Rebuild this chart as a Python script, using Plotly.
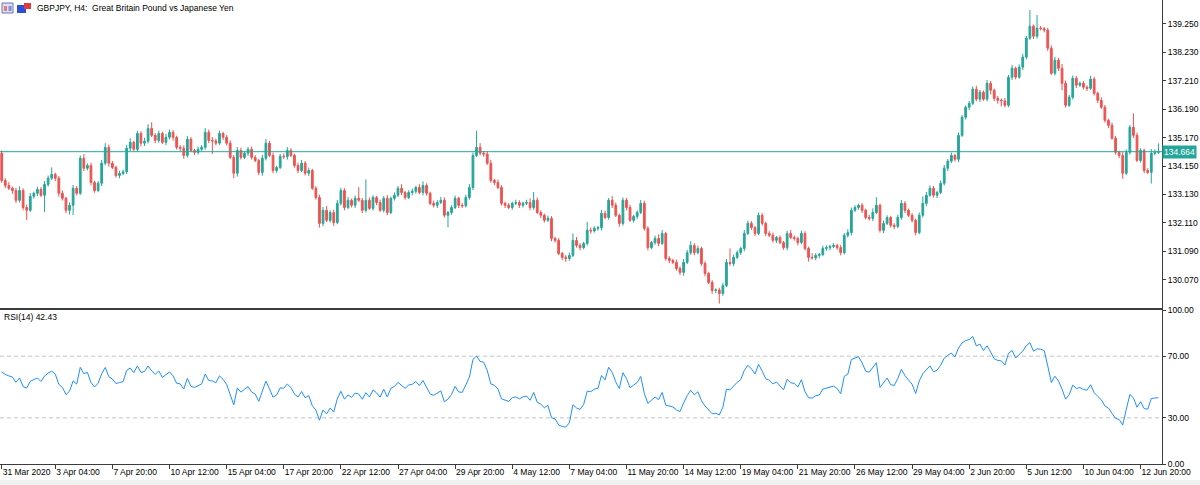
import plotly.graph_objects as go
import pandas as pd

# ---------------- data ----------------
symbol_title = "GBPJPY, H4:  Great Britain Pound vs Japanese Yen"
first_time = "2020-03-31 16:00"
first_open = 134.61
last_price = 134.664

closes = [
    133.63, 133.45, 133.35, 133.27, 132.92, 133.27, 132.66, 132.56, 133.06, 133.17,
    133.31, 133.10, 133.49, 133.71, 133.85, 133.71, 133.17, 132.99, 132.56, 132.74,
    133.35, 133.17, 134.43, 134.07, 134.17, 133.56, 133.27, 133.53, 134.25, 134.82,
    134.25, 134.10, 133.81, 133.88, 133.94, 134.79, 135.00, 134.75, 135.32, 134.97,
    135.04, 135.50,
    135.25, 135.07, 135.32, 135.00, 135.18, 135.36, 135.18, 134.82, 134.79, 134.53,
    135.11, 134.71, 134.64, 134.75, 134.82, 135.36, 135.07, 135.05, 134.97, 135.32,
    135.18, 134.97, 134.46, 133.89, 134.71, 134.46, 134.61, 134.75, 134.46, 134.35,
    133.92, 134.43, 134.97, 134.53, 133.99, 134.10, 134.50, 134.48, 134.71, 134.53,
    134.17,
    133.99, 134.25, 133.89, 133.99, 133.35, 133.02, 132.09, 132.56, 132.20, 132.48,
    132.12, 132.81, 133.27, 132.66, 132.92, 132.74, 132.99, 132.92, 132.56, 132.92,
    132.63, 133.02, 132.84, 132.56, 132.99, 132.48, 132.99, 133.10, 133.35, 133.20,
    133.02, 133.20, 133.24, 133.38, 133.20, 133.45, 133.17, 132.81, 132.74, 132.84,
    132.92, 132.38, 132.48, 132.66, 132.99, 132.74, 132.72, 133.02, 133.38, 134.53,
    134.82, 134.61, 134.58, 134.25, 133.63, 133.56, 133.38, 132.81, 132.74, 132.66,
    132.81, 132.84, 132.74, 132.81, 132.84, 132.66, 132.92, 132.48, 132.38, 132.20,
    132.27, 131.55, 131.48, 131.01, 130.87, 130.83, 130.94, 131.48, 131.30, 131.22,
    131.37,
    131.84, 131.82, 131.91, 131.94, 132.45, 132.30, 132.92, 132.74, 132.38, 132.09,
    132.92, 132.66, 132.20, 132.34, 132.48, 132.81, 131.91, 131.22, 131.40, 131.55,
    131.37, 131.73, 130.83, 130.76, 130.69, 130.47, 130.33, 130.69, 131.04, 131.30,
    131.04, 131.19, 130.65, 130.29, 129.97, 129.68, 129.70, 129.57, 129.86, 130.69,
    130.65,
    130.87, 131.04, 131.19, 131.73, 132.09, 131.94, 131.73, 132.38, 132.09, 131.73,
    131.66, 131.48, 131.58, 131.40, 131.22, 131.73, 131.58, 131.55, 131.40, 131.73,
    131.19, 130.87, 130.85, 130.94, 130.97, 131.19, 131.22, 131.26, 131.30, 131.22,
    131.04, 131.66, 131.76, 132.56, 132.66, 132.74, 132.56, 132.30, 132.27, 132.48,
    132.74,
    131.84, 132.09, 132.30, 132.02, 131.98, 132.30, 132.81, 132.56, 132.38, 132.20,
    131.76, 132.38, 132.81, 133.10, 133.35, 133.10, 133.20, 133.53, 134.07, 134.32,
    134.53, 134.39, 135.25, 135.90, 136.26, 136.40, 136.91, 136.55, 136.80, 136.55,
    137.12, 136.87, 136.58, 136.51, 136.49, 136.33, 137.34, 137.66, 137.34, 137.70,
    138.06,
    138.74, 139.17, 138.81, 139.10, 139.08, 139.03, 138.38, 137.48, 137.95, 137.66,
    137.12, 136.33, 136.62, 137.30, 137.05, 137.12, 136.98, 136.94, 137.27, 136.76,
    136.51, 136.26, 135.79, 135.61, 135.15, 134.64, 134.53, 133.89, 134.64, 135.54,
    135.25, 134.35, 134.71, 133.99, 133.92, 134.61, 134.64, 134.664,
]

upper_wick = [
    0.10, 0.08, 0.12, 0.06, 0.10, 0.15, 0.08, 0.10, 0.12, 0.06, 0.10, 0.08, 0.12, 0.10, 0.25, 0.06, 0.08, 0.10, 0.06, 0.10, 0.12, 0.08, 0.10, 0.15, 0.08,
    0.10, 0.06, 0.08, 0.12, 0.15, 0.10, 0.08, 0.06, 0.10, 0.08, 0.12, 0.15, 0.06, 0.10, 0.08, 0.12, 0.15, 0.22, 0.08, 0.10, 0.06, 0.12, 0.10, 0.08, 0.06,
    0.08, 0.10, 0.12, 0.08, 0.06, 0.10, 0.08, 0.15, 0.10, 0.12, 0.08, 0.10, 0.06, 0.08, 0.10, 0.08, 0.12, 0.10, 0.06, 0.08, 0.10, 0.08, 0.06, 0.12, 0.15,
    0.08, 0.10, 0.06, 0.08, 0.10, 0.12, 0.08, 0.06, 0.10, 0.12, 0.08, 0.10, 0.06, 0.08, 0.10, 0.12, 0.15, 0.08, 0.10, 0.12, 0.10, 0.08, 0.12, 0.06, 0.10,
    0.40, 0.08, 0.75, 0.10, 0.08, 0.06, 0.10, 0.08, 0.12, 0.06, 0.10, 0.08, 0.15, 0.06, 0.08, 0.10, 0.06, 0.12, 0.15, 0.08, 0.06, 0.10, 0.08, 0.12, 0.10,
    0.06, 0.08, 0.10, 0.06, 0.08, 0.10, 0.12, 0.10, 0.60, 0.15, 0.08, 0.10, 0.12, 0.06, 0.10, 0.08, 0.06, 0.08, 0.06, 0.10, 0.08, 0.06, 0.10, 0.15, 0.30,
    0.10, 0.08, 0.06, 0.10, 0.08, 0.06, 0.08, 0.06, 0.08, 0.10, 0.25, 0.12, 0.08, 0.06, 0.30, 0.10, 0.08, 0.06, 0.12, 0.10, 0.08, 0.15, 0.10, 0.06, 0.10,
    0.08, 0.10, 0.06, 0.08, 0.12, 0.10, 0.08, 0.06, 0.10, 0.15, 0.12, 0.06, 0.08, 0.06, 0.10, 0.08, 0.12, 0.10, 0.15, 0.08, 0.10, 0.06, 0.08, 0.06, 0.08,
    0.06, 0.08, 0.10, 0.12, 0.50, 0.10, 0.08, 0.06, 0.12, 0.10, 0.08, 0.06, 0.10, 0.08, 0.06, 0.08, 0.10, 0.06, 0.08, 0.06, 0.10, 0.12, 0.08, 0.06, 0.10,
    0.08, 0.06, 0.15, 0.08, 0.06, 0.10, 0.08, 0.06, 0.08, 0.06, 0.10, 0.08, 0.12, 0.10, 0.08, 0.06, 0.08, 0.06, 0.10, 0.15, 0.29, 0.06, 0.10, 0.08, 0.06,
    0.08, 0.10, 0.12, 0.08, 0.06, 0.08, 0.06, 0.10, 0.25, 0.12, 0.10, 0.08, 0.06, 0.10, 0.12, 0.08, 0.10, 0.06, 0.10, 0.08, 0.06, 0.08, 0.10, 0.12, 0.08,
    0.06, 0.12, 0.08, 0.06, 0.08, 0.06, 0.10, 0.08, 0.12, 0.06, 0.10, 0.12, 0.08, 0.58, 0.06, 0.47, 0.08, 0.06, 0.08, 0.10, 0.12, 0.08, 0.15, 0.10, 0.08,
    0.10, 0.08, 0.06, 0.08, 0.06, 0.12, 0.08, 0.06, 0.10, 0.08, 0.06, 0.10, 0.08, 0.06, 0.12, 0.10, 0.08, 0.50, 0.10, 0.08, 0.06, 0.08, 0.15, 0.10, 0.30,
]

lower_wick = [
    0.08, 0.10, 0.06, 0.12, 0.10, 0.08, 0.10, 0.35, 0.06, 0.08, 0.10, 0.06, 0.60, 0.08, 0.06, 0.10, 0.12, 0.08, 0.10, 0.15, 0.35, 0.08, 0.06, 0.10, 0.08,
    0.10, 0.08, 0.06, 0.10, 0.08, 0.12, 0.06, 0.08, 0.10, 0.06, 0.08, 0.10, 0.06, 0.08, 0.12, 0.10, 0.08, 0.06, 0.10, 0.08, 0.06, 0.10, 0.08, 0.12, 0.08,
    0.10, 0.12, 0.08, 0.06, 0.10, 0.08, 0.06, 0.08, 0.10, 0.47, 0.08, 0.06, 0.10, 0.08, 0.06, 0.18, 0.12, 0.08, 0.06, 0.10, 0.08, 0.06, 0.10, 0.12, 0.08,
    0.06, 0.10, 0.08, 0.06, 0.08, 0.10, 0.06, 0.08, 0.10, 0.06, 0.08, 0.10, 0.06, 0.08, 0.15, 0.10, 0.06, 0.08, 0.12, 0.06, 0.08, 0.10, 0.06, 0.08, 0.10,
    0.06, 0.10, 0.08, 0.06, 0.08, 0.10, 0.06, 0.08, 0.10, 0.06, 0.08, 0.06, 0.10, 0.08, 0.06, 0.10, 0.08, 0.06, 0.10, 0.08, 0.06, 0.08, 0.10, 0.06, 0.08,
    0.43, 0.08, 0.06, 0.10, 0.08, 0.06, 0.08, 0.10, 0.06, 0.08, 0.10, 0.06, 0.08, 0.10, 0.06, 0.08, 0.10, 0.06, 0.08, 0.06, 0.10, 0.08, 0.06, 0.10, 0.08,
    0.06, 0.10, 0.08, 0.06, 0.10, 0.08, 0.06, 0.10, 0.12, 0.08, 0.06, 0.08, 0.10, 0.06, 0.08, 0.10, 0.06, 0.08, 0.10, 0.06, 0.08, 0.10, 0.06, 0.12, 0.08,
    0.10, 0.06, 0.08, 0.10, 0.06, 0.08, 0.10, 0.06, 0.08, 0.10, 0.06, 0.08, 0.10, 0.06, 0.08, 0.10, 0.12, 0.06, 0.08, 0.10, 0.06, 0.08, 0.10, 0.06, 0.12,
    0.10, 0.36, 0.08, 0.06, 0.08, 0.10, 0.06, 0.08, 0.10, 0.06, 0.08, 0.10, 0.06, 0.08, 0.10, 0.06, 0.08, 0.10, 0.06, 0.08, 0.10, 0.06, 0.08, 0.10, 0.06,
    0.08, 0.15, 0.06, 0.08, 0.10, 0.06, 0.08, 0.10, 0.06, 0.08, 0.10, 0.06, 0.08, 0.10, 0.06, 0.08, 0.10, 0.06, 0.08, 0.10, 0.06, 0.08, 0.10, 0.06, 0.08,
    0.10, 0.06, 0.08, 0.10, 0.06, 0.08, 0.10, 0.06, 0.08, 0.10, 0.06, 0.08, 0.10, 0.06, 0.08, 0.10, 0.06, 0.08, 0.10, 0.06, 0.08, 0.10, 0.06, 0.08, 0.10,
    0.06, 0.08, 0.15, 0.10, 0.12, 0.20, 0.08, 0.06, 0.10, 0.08, 0.06, 0.10, 0.08, 0.06, 0.10, 0.08, 0.06, 0.08, 0.10, 0.06, 0.08, 0.10, 0.25, 0.08, 0.06,
    0.08, 0.10, 0.06, 0.08, 0.10, 0.06, 0.08, 0.10, 0.06, 0.08, 0.10, 0.06, 0.08, 0.10, 0.20, 0.06, 0.08, 0.10, 0.06, 0.08, 0.10, 0.06, 0.40, 0.08, 0.06,
]

price_ticks = [130.070, 131.090, 132.110, 133.130, 134.150, 135.170, 136.190, 137.210, 138.230, 139.250]
rsi_ticks = [0, 30, 70, 100]
rsi_levels = [30, 70]
rsi_period = 14
rsi_seed_gain = 0.32
rsi_seed_loss = 0.14
rsi_label_value = "42.43"

time_tick_labels = [
    "31 Mar 2020", "3 Apr 04:00", "7 Apr 20:00", "10 Apr 12:00", "15 Apr 04:00", "17 Apr 20:00",
    "22 Apr 12:00", "27 Apr 04:00", "29 Apr 20:00", "4 May 12:00", "7 May 04:00", "11 May 20:00",
    "14 May 12:00", "19 May 04:00", "21 May 20:00", "26 May 12:00", "29 May 04:00", "2 Jun 20:00",
    "5 Jun 12:00", "10 Jun 04:00", "12 Jun 20:00",
]
time_tick_times = [
    "2020-03-31 16:00", "2020-04-03 04:00", "2020-04-07 20:00", "2020-04-10 12:00", "2020-04-15 04:00",
    "2020-04-17 20:00", "2020-04-22 12:00", "2020-04-27 04:00", "2020-04-29 20:00", "2020-05-04 12:00",
    "2020-05-07 04:00", "2020-05-11 20:00", "2020-05-14 12:00", "2020-05-19 04:00", "2020-05-21 20:00",
    "2020-05-26 12:00", "2020-05-29 04:00", "2020-06-02 20:00", "2020-06-05 12:00", "2020-06-10 04:00",
    "2020-06-12 20:00",
]

# ---------------- derived ----------------
n = len(closes)
opens = [first_open] + closes[:-1]
highs = [max(o, c) + u for o, c, u in zip(opens, closes, upper_wick)]
lows = [min(o, c) - d for o, c, d in zip(opens, closes, lower_wick)]

# H4 bar times (forex: Mon-Fri)
bar_times = []
t = pd.Timestamp(first_time)
while len(bar_times) < n:
    if t.dayofweek < 5:
        bar_times.append(t)
    t += pd.Timedelta(hours=4)
tick_idx = [bar_times.index(pd.Timestamp(s)) for s in time_tick_times]

# RSI(14), Wilder smoothing
rsi = []
ag, al = rsi_seed_gain, rsi_seed_loss
prev = first_open
for c in closes:
    ch = c - prev
    g, l = max(ch, 0.0), max(-ch, 0.0)
    ag = (ag * (rsi_period - 1) + g) / rsi_period
    al = (al * (rsi_period - 1) + l) / rsi_period
    rsi.append(100.0 if al == 0 else 100.0 - 100.0 / (1.0 + ag / al))
    prev = c

x = list(range(n))

BULL = "#26a69a"
BEAR = "#ef5350"
AXIS = "#3c3c3c"
FONT = "Liberation Sans"

W, H = 1200, 485
ML, MR, MT, MB = 0, 38, 0, 21
PW, PH = W - ML - MR, H - MT - MB


def px(xp):
    return xp / PW


def py(yp):
    return (PH - yp) / PH


fig = go.Figure()
fig.add_trace(go.Candlestick(
    x=x, open=opens, high=highs, low=lows, close=closes,
    increasing=dict(line=dict(color=BULL, width=1), fillcolor=BULL),
    decreasing=dict(line=dict(color=BEAR, width=1), fillcolor=BEAR),
    whiskerwidth=0, xaxis="x", yaxis="y", hoverinfo="skip",
))
fig.add_trace(go.Scatter(
    x=x, y=rsi, mode="lines", line=dict(color="#1e90ff", width=1),
    xaxis="x2", yaxis="y2", hoverinfo="skip",
))

xr = [-0.48, n + 0.0]
fig.update_layout(
    width=W, height=H,
    margin=dict(l=ML, r=MR, t=MT, b=MB, autoexpand=False),
    paper_bgcolor="white", plot_bgcolor="white",
    showlegend=False,
    font=dict(family=FONT, size=8.5, color="#000000"),
    xaxis=dict(domain=[0, 1], anchor="y", range=xr, showticklabels=False,
               showline=True, linecolor=AXIS, linewidth=1, ticks="",
               showgrid=False, zeroline=False, rangeslider=dict(visible=False),
               automargin=False),
    yaxis=dict(domain=[1 - 307.5 / PH, 1], anchor="x", side="right",
               range=[129.07, 140.11], tickvals=price_ticks,
               ticktext=[f"{v:.3f}" for v in price_ticks],
               ticks="outside", ticklen=3, tickcolor=AXIS,
               showline=True, linecolor=AXIS, linewidth=1,
               showgrid=False, zeroline=False, automargin=False),
    xaxis2=dict(domain=[0, 1], anchor="y2", range=xr,
                tickvals=tick_idx, ticktext=time_tick_labels,
                ticks="outside", ticklen=4, tickcolor=AXIS, tickangle=0,
                ticklabelposition="outside right",
                showline=True, mirror=True, linecolor=AXIS, linewidth=1,
                showgrid=False, zeroline=False, automargin=False),
    yaxis2=dict(domain=[0, (PH - 310) / PH], anchor="x2", side="right",
                range=[0, 100], tickvals=rsi_ticks,
                ticktext=[f"{v:.2f}" for v in rsi_ticks],
                ticks="outside", ticklen=3, tickcolor=AXIS,
                showline=True, linecolor=AXIS, linewidth=1,
                showgrid=False, zeroline=False, automargin=False),
)

shapes = []
for lv in rsi_levels:
    shapes.append(dict(type="line", xref="paper", yref="y2", x0=0, x1=1, y0=lv, y1=lv,
                       line=dict(color="#c4c4c4", width=1, dash="4px,3px"), layer="below"))
shapes.append(dict(type="line", xref="paper", yref="y", x0=0, x1=1, y0=last_price, y1=last_price,
                   line=dict(color=BULL, width=1), layer="above"))
# header icons
shapes.append(dict(type="rect", xref="paper", yref="paper", x0=px(2), x1=px(13), y0=py(13), y1=py(3),
                   fillcolor="#dfe0f2", line=dict(color="#6f72a8", width=1)))
shapes.append(dict(type="rect", xref="paper", yref="paper", x0=px(4), x1=px(7), y0=py(11), y1=py(6),
                   fillcolor="#e87a7a", line=dict(width=0)))
shapes.append(dict(type="rect", xref="paper", yref="paper", x0=px(8.5), x1=px(11.5), y0=py(11), y1=py(6),
                   fillcolor="#7a8ee8", line=dict(width=0)))
shapes.append(dict(type="rect", xref="paper", yref="paper", x0=px(17), x1=px(26), y0=py(13), y1=py(5),
                   fillcolor="#2d4fd3", line=dict(width=0)))
shapes.append(dict(type="rect", xref="paper", yref="paper", x0=px(24), x1=px(31), y0=py(9), y1=py(3),
                   fillcolor="#e0393e", line=dict(width=0)))
# bottom strip
shapes.append(dict(type="rect", xref="paper", yref="paper", x0=0, x1=W / PW, y0=py(485), y1=py(480),
                   fillcolor="#f0f0f0", line=dict(width=0)))
fig.update_layout(shapes=shapes)

fig.add_annotation(xref="paper", yref="paper", x=px(35), y=py(8.5), xanchor="left", yanchor="middle",
                   text=symbol_title, showarrow=False, font=dict(family=FONT, size=8.5, color="#000"))
fig.add_annotation(xref="paper", yref="paper", x=px(2), y=py(317), xanchor="left", yanchor="middle",
                   text=f"RSI({rsi_period}) {rsi_label_value}", showarrow=False,
                   font=dict(family=FONT, size=8.5, color="#000"))
fig.add_annotation(xref="paper", yref="y", x=1, y=last_price, xanchor="left", yanchor="middle",
                   text=f"{last_price:.3f}", showarrow=False, bgcolor=BULL, borderpad=1,
                   font=dict(family=FONT, size=8.5, color="white"))

fig.write_html("out.html", config={"responsive": False, "displayModeBar": False},
               post_script="document.body.style.margin='0';document.body.style.overflow='hidden';")
